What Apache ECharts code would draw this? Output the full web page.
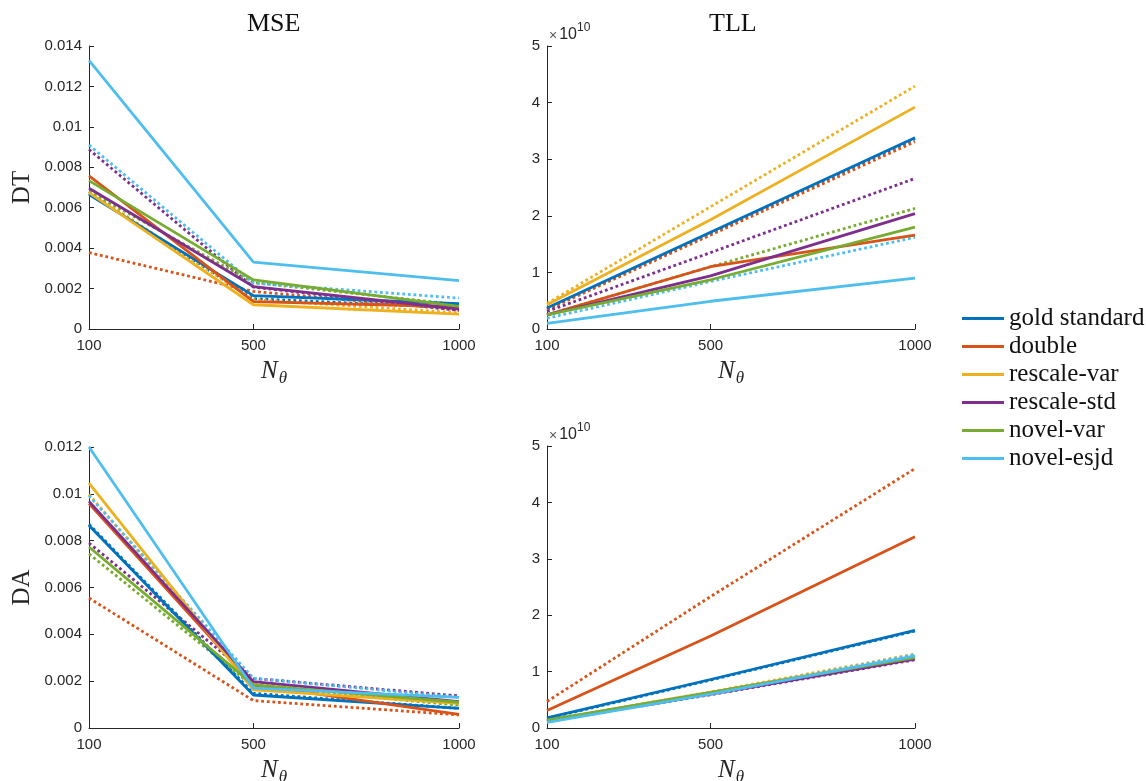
<!DOCTYPE html>
<html>
<head>
<meta charset="utf-8">
<script src="https://cdn.jsdelivr.net/npm/echarts@6/dist/echarts.min.js"></script>
<style>html,body{margin:0;padding:0;background:#fff}#c{width:1146px;height:781px}</style>
</head>
<body>
<div id="c"></div>
<script>
// ---- data ----
const nTheta = [100, 500, 1000];
const xTicks = [100, 500, 1000];
const methods = ['gold standard', 'double', 'rescale-var', 'rescale-std', 'novel-var', 'novel-esjd'];
const colors = ['#0072BD', '#D95319', '#EDB120', '#7E2F8E', '#77AC30', '#4DBEEE'];

// rows follow `methods` order; columns follow nTheta
const dtMseSolid = [
  [0.00665, 0.00165, 0.00125],
  [0.00758, 0.00135, 0.00110],
  [0.00675, 0.00120, 0.00074],
  [0.00696, 0.00210, 0.00099],
  [0.00734, 0.00243, 0.00112],
  [0.01329, 0.00331, 0.00239]
];
const dtMseDotted = [
  [0.00670, 0.00150, 0.00105],
  [0.00378, 0.00186, 0.00095],
  [0.00680, 0.00145, 0.00080],
  [0.00888, 0.00207, 0.00092],
  [0.00680, 0.00230, 0.00120],
  [0.00910, 0.00227, 0.00153]
];
const dtTllSolid = [
  [0.37e10, 1.71e10, 3.38e10],
  [0.25e10, 1.10e10, 1.66e10],
  [0.43e10, 1.93e10, 3.92e10],
  [0.25e10, 0.94e10, 2.04e10],
  [0.25e10, 0.87e10, 1.80e10],
  [0.10e10, 0.49e10, 0.90e10]
];
const dtTllDotted = [
  [0.36e10, 1.69e10, 3.36e10],
  [0.34e10, 1.66e10, 3.31e10],
  [0.45e10, 2.16e10, 4.29e10],
  [0.31e10, 1.35e10, 2.66e10],
  [0.25e10, 1.10e10, 2.13e10],
  [0.19e10, 0.84e10, 1.62e10]
];
const daMseSolid = [
  [0.00865, 0.00141, 0.00084],
  [0.00958, 0.00184, 0.00058],
  [0.01046, 0.00163, 0.00105],
  [0.00968, 0.00198, 0.00113],
  [0.00773, 0.00184, 0.00110],
  [0.01200, 0.00170, 0.00131]
];
const daMseDotted = [
  [0.00870, 0.00148, 0.00084],
  [0.00555, 0.00117, 0.00056],
  [0.00997, 0.00190, 0.00100],
  [0.00790, 0.00212, 0.00137],
  [0.00744, 0.00177, 0.00098],
  [0.00992, 0.00212, 0.00131]
];
const daTllSolid = [
  [0.18e10, 0.86e10, 1.73e10],
  [0.31e10, 1.63e10, 3.39e10],
  [0.13e10, 0.63e10, 1.27e10],
  [0.12e10, 0.60e10, 1.22e10],
  [0.14e10, 0.63e10, 1.25e10],
  [0.10e10, 0.60e10, 1.28e10]
];
const daTllDotted = [
  [0.17e10, 0.85e10, 1.72e10],
  [0.47e10, 2.33e10, 4.60e10],
  [0.13e10, 0.64e10, 1.31e10],
  [0.12e10, 0.59e10, 1.21e10],
  [0.13e10, 0.62e10, 1.24e10],
  [0.11e10, 0.62e10, 1.30e10]
];
const colTitles = ['MSE', 'TLL'];
const rowTitles = ['DT', 'DA'];

// ---- chart ----
const AX = '#262626';
const SANS = '"Liberation Sans", Arial, sans-serif';
const SERIF = '"Liberation Serif", "Times New Roman", serif';

const grids = [
  {left: 89, top: 46, width: 370, height: 283},
  {left: 547, top: 46, width: 368, height: 283},
  {left: 89, top: 447, width: 370, height: 281},
  {left: 547, top: 446, width: 368, height: 282}
];
const panels = [
  {solid: dtMseSolid, dotted: dtMseDotted, max: 0.014, interval: 0.002, tll: false, yname: rowTitles[0]},
  {solid: dtTllSolid, dotted: dtTllDotted, max: 5e10, interval: 1e10, tll: true},
  {solid: daMseSolid, dotted: daMseDotted, max: 0.012, interval: 0.002, tll: false, yname: rowTitles[1]},
  {solid: daTllSolid, dotted: daTllDotted, max: 5e10, interval: 1e10, tll: true}
];

const LW = 2.8;
const xAxes = [], yAxes = [], series = [];
panels.forEach((p, i) => {
  xAxes.push({
    gridIndex: i, type: 'value', min: 100, max: 1000,
    axisLine: {show: true, onZero: false, lineStyle: {color: AX, width: 1}},
    axisTick: {show: true, inside: true, length: 5, customValues: xTicks, lineStyle: {color: AX}},
    axisLabel: {customValues: xTicks, formatter: v => String(v), color: AX, fontFamily: SANS, fontSize: 15, margin: 9},
    splitLine: {show: false},
    name: '{n|N}{t|θ}', nameLocation: 'middle', nameGap: 30,
    nameTextStyle: {
      rich: {
        n: {fontFamily: SERIF, fontStyle: 'italic', fontSize: 25, lineHeight: 25, verticalAlign: 'top', color: AX},
        t: {fontFamily: SERIF, fontStyle: 'italic', fontSize: 17, lineHeight: 17, padding: [11, 0, 0, 1], verticalAlign: 'top', color: AX}
      }
    }
  });
  const y = {
    gridIndex: i, type: 'value', min: 0, max: p.max, interval: p.interval,
    axisLine: {show: true, lineStyle: {color: AX, width: 1}},
    axisTick: {show: true, inside: true, length: 5, lineStyle: {color: AX}},
    axisLabel: {color: AX, fontFamily: SANS, fontSize: 15, margin: 7},
    splitLine: {show: false}
  };
  if (p.tll) {
    y.axisLabel.formatter = v => String(Math.round(v / 1e10));
    y.name = '{x|×}{b|10}{s|10}';
    y.nameLocation = 'end';
    y.nameGap = 3;
    y.nameTextStyle = {
      align: 'left', verticalAlign: 'bottom',
      rich: {
        x: {fontFamily: SANS, fontSize: 14, lineHeight: 17, verticalAlign: 'bottom', color: '#555', padding: [0, 2, 0, 2]},
        b: {fontFamily: SANS, fontSize: 16, lineHeight: 17, verticalAlign: 'bottom', color: AX},
        s: {fontFamily: SANS, fontSize: 12, lineHeight: 12, verticalAlign: 'bottom', color: AX, padding: [0, 0, 9, 0]}
      }
    };
  } else {
    y.name = p.yname;
    y.nameLocation = 'middle';
    y.nameGap = 54;
    y.nameTextStyle = {fontFamily: SERIF, fontSize: 25, color: AX};
  }
  yAxes.push(y);

  methods.forEach((m, k) => {
    series.push({
      name: m + ' (dotted)', type: 'line', xAxisIndex: i, yAxisIndex: i,
      data: nTheta.map((x, j) => [x, p.dotted[k][j]]),
      symbol: 'none', silent: true,
      lineStyle: {color: colors[k], width: LW, type: [LW, LW]},
      itemStyle: {color: colors[k]}, z: 2
    });
  });
  methods.forEach((m, k) => {
    series.push({
      name: m, type: 'line', xAxisIndex: i, yAxisIndex: i,
      data: nTheta.map((x, j) => [x, p.solid[k][j]]),
      symbol: 'none', silent: true,
      lineStyle: {color: colors[k], width: LW},
      itemStyle: {color: colors[k]}, z: 3
    });
  });
});

const chart = echarts.init(document.getElementById('c'), null, {renderer: 'canvas'});
chart.setOption({
  animation: false,
  backgroundColor: '#fff',
  grid: grids.map(g => Object.assign({containLabel: false, outerBoundsMode: 'none'}, g)),
  xAxis: xAxes,
  yAxis: yAxes,
  series: series,
  legend: {
    data: methods, orient: 'vertical', left: 962, top: 306, padding: 0,
    itemWidth: 42, itemHeight: 14, itemGap: 3,
    icon: 'path://M0,6 L42,6 L42,9 L0,9 Z',
    textStyle: {fontFamily: SERIF, fontSize: 25, lineHeight: 25, color: '#111'},
    selectedMode: false
  },
  graphic: [
    {type: 'text', left: 275 - 28, top: 11, style: {text: colTitles[0], font: '26px ' + SERIF, fill: '#111'}},
    {type: 'text', left: 732 - 23, top: 11, style: {text: colTitles[1], font: '26px ' + SERIF, fill: '#111'}}
  ]
});
</script>
</body>
</html>
